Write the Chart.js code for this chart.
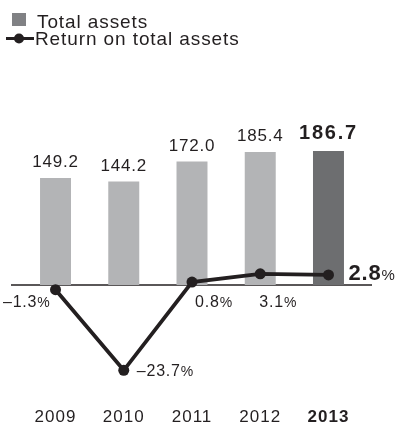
<!DOCTYPE html>
<html>
<head>
<meta charset="utf-8">
<script src="https://cdn.jsdelivr.net/npm/chart.js@4"></script>
<style>
  html, body { margin: 0; padding: 0; background: #fff; }
  canvas { display: block; }
</style>
</head>
<body>
<canvas id="chart" width="400" height="423"></canvas>
<script>
// data
const years = ['2009', '2010', '2011', '2012', '2013'];
const totalAssets = [149.2, 144.2, 172.0, 185.4, 186.7];
const returnOnAssets = [-1.3, -23.7, 0.8, 3.1, 2.8];
const assetLabels = ['149.2', '144.2', '172.0', '185.4', '186.7'];
const returnLabels = ['\u20131.3', '\u201323.7', '0.8', '3.1', '2.8'];

const FONT = '"Liberation Sans", Arial, Helvetica, sans-serif';
const INK = '#231f20';
const barLight = '#b3b4b6';
const barDark = '#6d6e70';

// where each % label sits relative to its point
const retLabelPos = [
  { dx: -5, dy: null, align: 'right' },
  { dx: 13, dy: 6, align: 'left' },
  { dx: 3, dy: null, align: 'left' },
  { dx: -1, dy: null, align: 'left' },
  { dx: 20, dy: 5, align: 'left', bold: true }
];

function txt(ctx, s, x, y, font, align, spacing) {
  ctx.font = font;
  ctx.textAlign = align;
  ctx.letterSpacing = (spacing || 0) + 'px';
  ctx.fillText(s, x, y);
  const w = ctx.measureText(s).width;
  ctx.letterSpacing = '0px';
  return w;
}

const decor = {
  id: 'decor',
  beforeDatasetsDraw(chart) {
    const ctx = chart.ctx;
    const y0 = chart.scales.y.getPixelForValue(0);
    ctx.save();
    ctx.strokeStyle = INK;
    ctx.lineWidth = 1.6;
    ctx.beginPath();
    ctx.moveTo(11, y0);
    ctx.lineTo(372, y0);
    ctx.stroke();
    ctx.restore();
  },
  afterDatasetsDraw(chart) {
    const ctx = chart.ctx;
    const y0 = chart.scales.y.getPixelForValue(0);
    ctx.save();
    ctx.fillStyle = INK;
    ctx.textBaseline = 'alphabetic';

    // bar value labels
    const bars = chart.getDatasetMeta(1).data;
    bars.forEach((b, i) => {
      const last = i === bars.length - 1;
      if (last) txt(ctx, assetLabels[i], b.x, b.y - 11.5, 'bold 20px ' + FONT, 'center', 1.8);
      else txt(ctx, assetLabels[i], b.x, b.y - 10.5, '17px ' + FONT, 'center', 0.8);
    });

    // return labels
    const pts = chart.getDatasetMeta(0).data;
    pts.forEach((p, i) => {
      const o = retLabelPos[i];
      const x = p.x + o.dx;
      const y = o.dy === null ? y0 + 22 : p.y + o.dy;
      const numFont = o.bold ? 'bold 22px ' + FONT : '16px ' + FONT;
      const pctFont = o.bold ? '15px ' + FONT : '14px ' + FONT;
      ctx.font = numFont; ctx.letterSpacing = '0.8px';
      const wn = ctx.measureText(returnLabels[i]).width;
      ctx.font = pctFont; ctx.letterSpacing = '0.8px';
      const wp = ctx.measureText('%').width;
      const start = o.align === 'right' ? x - wn - wp : x;
      txt(ctx, returnLabels[i], start, y, numFont, 'left', 0.8);
      txt(ctx, '%', start + wn, y, pctFont, 'left', 0.8);
    });

    // category labels
    const xs = chart.scales.x;
    years.forEach((yr, i) => {
      const last = i === years.length - 1;
      txt(ctx, yr, xs.getPixelForValue(i), 422, (last ? 'bold ' : '') + '17px ' + FONT, 'center', 1);
    });

    // legend
    ctx.fillStyle = '#808184';
    ctx.fillRect(12, 13, 14, 13);
    ctx.fillStyle = INK;
    txt(ctx, chart.data.datasets[1].label, 37, 27.5, '19px ' + FONT, 'left', 0.9);
    ctx.strokeStyle = INK;
    ctx.lineWidth = 3;
    ctx.beginPath();
    ctx.moveTo(6, 38.5);
    ctx.lineTo(34, 38.5);
    ctx.stroke();
    ctx.beginPath();
    ctx.arc(19, 38.5, 5, 0, Math.PI * 2);
    ctx.fill();
    txt(ctx, chart.data.datasets[0].label, 35, 45, '19px ' + FONT, 'left', 0.9);
    ctx.restore();
  }
};

new Chart(document.getElementById('chart'), {
  type: 'bar',
  data: {
    labels: years,
    datasets: [
      {
        type: 'line',
        label: 'Return on total assets',
        data: returnOnAssets,
        yAxisID: 'y2',
        order: 0,
        borderColor: INK,
        backgroundColor: INK,
        borderWidth: 3.8,
        pointRadius: 5.5,
        pointBackgroundColor: INK,
        pointBorderWidth: 0,
        tension: 0
      },
      {
        label: 'Total assets',
        data: totalAssets,
        yAxisID: 'y',
        order: 1,
        backgroundColor: totalAssets.map((v, i) => i === totalAssets.length - 1 ? barDark : barLight),
        borderWidth: 0,
        categoryPercentage: 1,
        barPercentage: 0.454
      }
    ]
  },
  options: {
    responsive: false,
    animation: false,
    layout: { padding: { left: 21.4, right: 37.4, top: 100, bottom: 28 } },
    plugins: { legend: { display: false }, tooltip: { enabled: false } },
    scales: {
      x: { display: false, offset: true },
      y: { display: false, min: -153.2, max: 257.7 },
      y2: { display: false, min: -30.56, max: 51.39 }
    }
  },
  plugins: [decor]
});
</script>
</body>
</html>
